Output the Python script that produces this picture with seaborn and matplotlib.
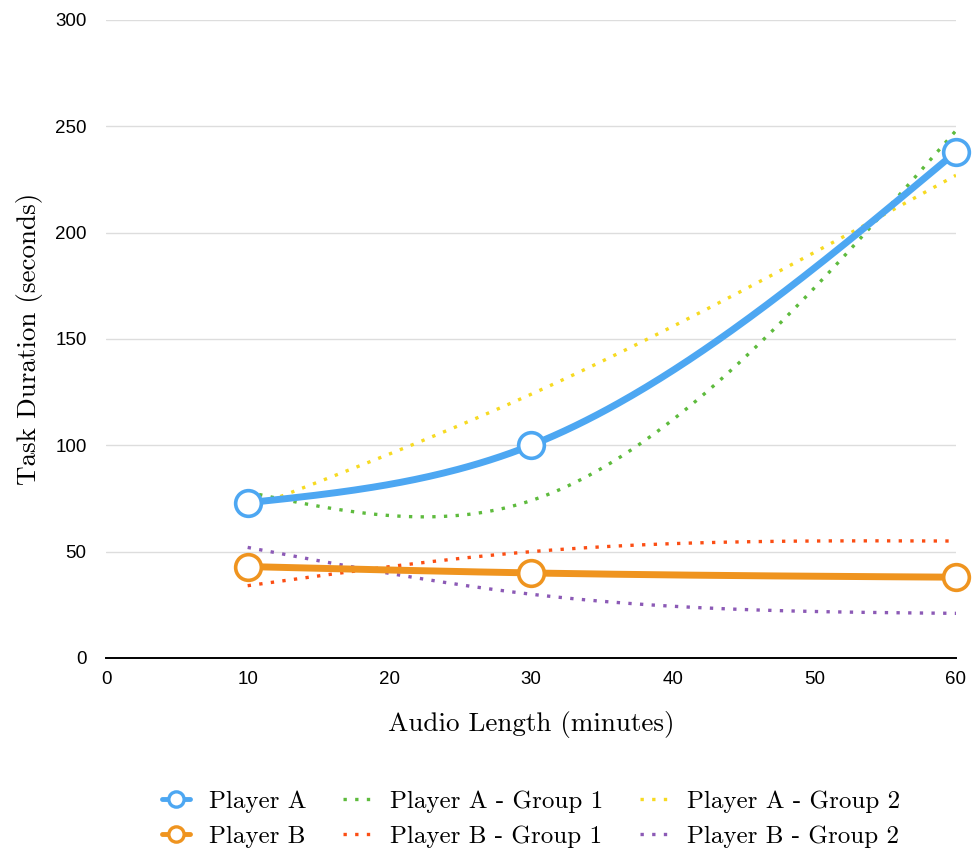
import numpy as np
import pandas as pd
import matplotlib
matplotlib.use("Agg")
import matplotlib.pyplot as plt
from matplotlib.lines import Line2D
import seaborn as sns

# ---- data ----
audio_minutes = [10, 30, 60]
player_a = [73, 100, 238]
player_b = [43, 40, 38]
player_a_g1 = [78, 74, 248]
player_a_g2 = [70, 124, 227]
player_b_g1 = [34, 50, 55]
player_b_g2 = [52, 30, 21]
x_ticks = [0, 10, 20, 30, 40, 50, 60]
y_ticks = [0, 50, 100, 150, 200, 250, 300]

series_names = ["Player A", "Player B", "Player A - Group 1", "Player B - Group 1",
                "Player A - Group 2", "Player B - Group 2"]
series_vals = [player_a, player_b, player_a_g1, player_b_g1, player_a_g2, player_b_g2]
colors = {"Player A": "#4DA7F2", "Player B": "#EF941F",
          "Player A - Group 1": "#5EBB3D", "Player B - Group 1": "#FB4E14",
          "Player A - Group 2": "#F7DA22", "Player B - Group 2": "#8C5AB6"}


def natural_spline(xk, yk, n=200):
    xk = np.asarray(xk, float); yk = np.asarray(yk, float)
    m = len(xk); h = np.diff(xk)
    A = np.zeros((m, m)); r = np.zeros(m)
    A[0, 0] = A[-1, -1] = 1
    for i in range(1, m - 1):
        A[i, i - 1] = h[i - 1]; A[i, i] = 2 * (h[i - 1] + h[i]); A[i, i + 1] = h[i]
        r[i] = 6 * ((yk[i + 1] - yk[i]) / h[i] - (yk[i] - yk[i - 1]) / h[i - 1])
    M = np.linalg.solve(A, r)
    xs = np.linspace(xk[0], xk[-1], n)
    idx = np.clip(np.searchsorted(xk, xs) - 1, 0, m - 2)
    x0, x1 = xk[idx], xk[idx + 1]; hh = x1 - x0
    ys = (M[idx] * (x1 - xs) ** 3 / (6 * hh) + M[idx + 1] * (xs - x0) ** 3 / (6 * hh)
          + (yk[idx] / hh - M[idx] * hh / 6) * (x1 - xs)
          + (yk[idx + 1] / hh - M[idx + 1] * hh / 6) * (xs - x0))
    return xs, ys


sns.set_theme(style="white")
serif = "cmr10"
sans = "Liberation Sans"
plt.rcParams["axes.formatter.use_mathtext"] = True

fig = plt.figure(figsize=(9.73, 8.49), dpi=100)
ax = fig.add_axes([106 / 973, 1 - 658 / 849, (956 - 106) / 973, (658 - 20) / 849])

dotted = (0, (1, 2.5))
for name, vals in zip(series_names, series_vals):
    xs, ys = natural_spline(audio_minutes, vals)
    df = pd.DataFrame({"x": xs, "y": ys})
    main = name in ("Player A", "Player B")
    sns.lineplot(data=df, x="x", y="y", ax=ax, color=colors[name], estimator=None,
                 linewidth=5.0 if main else 2.4,
                 linestyle="-" if main else dotted,
                 solid_capstyle="round", dash_capstyle="butt",
                 zorder=4 if main else 3)
    if main:
        sns.scatterplot(x=audio_minutes, y=vals, ax=ax, s=18.5 ** 2, marker="o",
                        facecolor="white", edgecolor=colors[name], linewidth=2.6,
                        zorder=5, clip_on=False)

ax.set_xlim(0, 60)
ax.set_ylim(0, 300)
ax.set_xticks(x_ticks)
ax.set_yticks(y_ticks)
ax.set_xticklabels([str(t) for t in x_ticks], fontfamily=sans, fontsize=13.5, color="black")
ax.set_yticklabels([str(t) for t in y_ticks], fontfamily=sans, fontsize=13.5, color="black")
ax.tick_params(axis="y", length=0, pad=14)
ax.tick_params(axis="x", length=0, pad=9)
ax.yaxis.grid(True, color="#dddddd", linewidth=1)
ax.xaxis.grid(False)
for s in ["top", "right", "left"]:
    ax.spines[s].set_visible(False)
ax.spines["bottom"].set_color("black")
ax.spines["bottom"].set_linewidth(1.4)
ax.spines["bottom"].set_zorder(6)

ax.set_xlabel("Audio Length (minutes)", fontfamily=serif, fontsize=19.5, labelpad=17,
              color="black")
ax.set_ylabel("Task Duration (seconds)", fontfamily=serif, fontsize=19.5, labelpad=9,
              color="black")

handles = []
for name in series_names:
    main = name in ("Player A", "Player B")
    if main:
        h = Line2D([], [], color=colors[name], linewidth=3.5, marker="o", markersize=11,
                   markerfacecolor="white", markeredgecolor=colors[name], markeredgewidth=2.4)
    else:
        h = Line2D([], [], color=colors[name], linewidth=2.4, linestyle=dotted)
    handles.append(h)

leg = fig.legend(handles, series_names, loc="center", bbox_to_anchor=(531 / 973, 1 - 819 / 849),
                 ncol=3, frameon=False, prop={"family": serif, "size": 18},
                 handlelength=1.15, columnspacing=1.45, handletextpad=0.75, labelspacing=0.48)
for t in leg.get_texts():
    t.set_color("black")

fig.savefig("out.png", dpi=100)
